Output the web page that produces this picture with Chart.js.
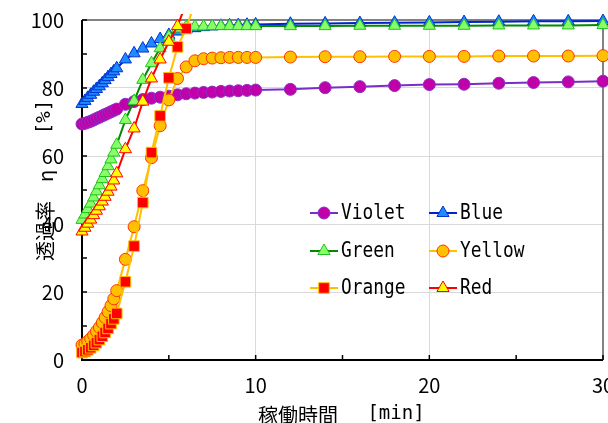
<!DOCTYPE html>
<html>
<head>
<meta charset="utf-8">
<script src="https://cdn.jsdelivr.net/npm/chart.js@4.4.0/dist/chart.umd.min.js"></script>
<style>
  html, body { margin: 0; padding: 0; background: #fff; overflow: hidden; }
  #wrap { width: 614px; height: 440px; }
</style>
</head>
<body>
<div id="wrap"><canvas id="chart" width="614" height="440"></canvas></div>
<script>
// time axis [min]
const times = [0, 0.17, 0.33, 0.5, 0.67, 0.83, 1, 1.17, 1.33, 1.5, 1.67, 1.83, 2,
  2.5, 3, 3.5, 4, 4.5, 5, 5.5, 6, 6.5, 7, 7.5, 8, 8.5, 9, 9.5, 10,
  12, 14, 16, 18, 20, 22, 24, 26, 28, 30];

// transmittance [%]
const violet = [69.4, 69.6, 69.9, 70.2, 70.6, 71.0, 71.4, 71.8, 72.2, 72.6, 73.0, 73.4, 73.8,
  75.2, 76.0, 76.6, 77.0, 77.3, 77.6, 78.0, 78.3, 78.5, 78.7, 78.8, 79.0, 79.1, 79.2, 79.3, 79.4,
  79.6, 80.1, 80.4, 80.7, 81.0, 81.1, 81.4, 81.6, 81.8, 82.0];
const blue = [75.3, 76.2, 77.1, 78.0, 78.9, 79.7, 80.5, 81.4, 82.3, 83.2, 84.1, 84.9, 85.8,
  88.4, 90.2, 91.6, 93.1, 94.4, 95.6, 96.6, 97.2, 97.6, 97.9, 98.1, 98.3, 98.4, 98.5, 98.6, 98.7,
  98.9, 99.0, 99.1, 99.2, 99.3, 99.4, 99.5, 99.6, 99.6, 99.7];
const green = [41.2, 42.8, 44.4, 46.0, 47.8, 49.6, 51.4, 53.2, 55.0, 57.0, 59.0, 61.0, 63.3,
  70.6, 76.2, 82.4, 87.3, 91.7, 95.1, 97.5, 98.0, 98.1, 98.1, 98.2, 98.2, 98.2, 98.2, 98.2, 98.2,
  98.2, 98.2, 98.3, 98.3, 98.3, 98.3, 98.4, 98.4, 98.4, 98.5];
const yellow = [4.4, 4.8, 5.5, 6.3, 7.3, 8.4, 9.6, 11.0, 12.5, 14.2, 16.0, 18.0, 20.4,
  29.6, 39.2, 49.8, 59.5, 68.9, 76.5, 82.8, 86.2, 88.0, 88.6, 88.8, 88.9, 89.0, 89.0, 89.0, 89.0,
  89.1, 89.2, 89.2, 89.3, 89.3, 89.3, 89.4, 89.4, 89.4, 89.5];
const orange = [2.2, 2.5, 3.0, 3.6, 4.3, 5.1, 6.0, 7.0, 8.1, 9.3, 10.7, 12.1, 13.7,
  23.0, 33.5, 46.3, 61.0, 71.8, 83.0, 92.1, 97.5, 105, 105, 105, 105, 105, 105, 105, 105,
  105, 105, 105, 105, 105, 105, 105, 105, 105, 105];
const red = [37.8, 38.9, 40.1, 41.3, 42.6, 43.9, 45.2, 46.6, 48.0, 49.5, 51.0, 52.8, 54.9,
  62.0, 68.1, 76.0, 82.8, 88.4, 93.6, 98.2, 105, 105, 105, 105, 105, 105, 105, 105, 105,
  105, 105, 105, 105, 105, 105, 105, 105, 105, 105];

const xTicks = [0, 10, 20, 30];
const yTicks = [0, 20, 40, 60, 80, 100];

const series = [
  { label: 'Violet', values: violet, line: '#7a2ec8', fill: '#c000a8', edge: '#8a30c8', style: 'circle', r: 6 },
  { label: 'Blue', values: blue, line: '#0022cc', fill: '#1c8cff', edge: '#0030d0', style: 'triangle', r: 7 },
  { label: 'Green', values: green, line: '#008a00', fill: '#88ff66', edge: '#22c022', style: 'triangle', r: 7 },
  { label: 'Yellow', values: yellow, line: '#ffc000', fill: '#ffc000', edge: '#ff3300', style: 'circle', r: 6 },
  { label: 'Orange', values: orange, line: '#ffc000', fill: '#ff0000', edge: '#ffc000', style: 'rect', r: 7.5 },
  { label: 'Red', values: red, line: '#ff0000', fill: '#ffff00', edge: '#ff0000', style: 'triangle', r: 7 }
];

const cjk = '"Noto Sans CJK JP", sans-serif';
const mono = '"DejaVu Sans Mono", monospace';

// plot frame + inward tick marks (drawn under the data, like the original)
const frame = {
  id: 'frame',
  beforeDatasetsDraw(chart) {
    const { ctx, chartArea: a, scales: { x, y } } = chart;
    const seg = (x1, y1, x2, y2) => { ctx.beginPath(); ctx.moveTo(x1, y1); ctx.lineTo(x2, y2); ctx.stroke(); };
    ctx.save();
    ctx.strokeStyle = '#595959';
    ctx.lineWidth = 1.5;
    seg(a.left, a.top, a.right, a.top);
    seg(a.right, a.top, a.right, a.bottom);
    ctx.strokeStyle = '#000';
    ctx.lineWidth = 1.5;
    for (let i = 0; i < xTicks.length; i++) {
      const vals = [xTicks[i]];
      if (i < xTicks.length - 1) vals.push((xTicks[i] + xTicks[i + 1]) / 2);
      vals.forEach(v => { const px = x.getPixelForValue(v); seg(px, a.bottom, px, a.bottom - 5); });
    }
    for (let i = 0; i < yTicks.length; i++) {
      const vals = [yTicks[i]];
      if (i < yTicks.length - 1) vals.push((yTicks[i] + yTicks[i + 1]) / 2);
      vals.forEach(v => { const py = y.getPixelForValue(v); seg(a.left, py, a.left + 5, py); });
    }
    ctx.lineWidth = 2;
    seg(a.left, a.top, a.left, a.bottom + 1);
    seg(a.left - 1, a.bottom, a.right, a.bottom);
    ctx.restore();
  }
};

// axis titles, drawn piece by piece to get the wide Excel spacing
const axisTitles = {
  id: 'axisTitles',
  afterDraw(chart) {
    const ctx = chart.ctx;
    ctx.save();
    ctx.fillStyle = '#000';
    ctx.textBaseline = 'middle';
    ctx.textAlign = 'center';
    // x title
    ctx.font = '20px ' + cjk;
    ctx.fillText('稼働時間', 298, 415);
    ctx.font = '19px ' + mono;
    ctx.fillText('[min]', 396, 414);
    // y title, rotated
    ctx.translate(45, 0);
    ctx.rotate(-Math.PI / 2);
    ctx.font = '20px ' + cjk;
    ctx.fillText('透過率', -231, 0);
    ctx.fillText('η', -176, 0);
    ctx.font = '19px ' + mono;
    ctx.fillText('[%]', -117, 0);
    ctx.restore();
  }
};

function marker(ctx, s, cx, cy) {
  ctx.beginPath();
  if (s.style === 'circle') {
    ctx.arc(cx, cy, s.r, 0, Math.PI * 2);
  } else if (s.style === 'rect') {
    const h = s.r * Math.SQRT1_2;
    ctx.rect(cx - h, cy - h, 2 * h, 2 * h);
  } else {
    for (let k = 0; k < 3; k++) {
      const ang = k * 2 * Math.PI / 3;
      const px = cx + Math.sin(ang) * s.r, py = cy - Math.cos(ang) * s.r;
      k ? ctx.lineTo(px, py) : ctx.moveTo(px, py);
    }
    ctx.closePath();
  }
  ctx.fillStyle = s.fill;
  ctx.fill();
  ctx.lineWidth = 1;
  ctx.strokeStyle = s.edge;
  ctx.stroke();
}

// legend inside the plot, 2 columns x 3 rows
const insideLegend = {
  id: 'insideLegend',
  afterDraw(chart) {
    const ctx = chart.ctx;
    const colX = [310, 429];
    const rowY = [213, 251, 288];
    ctx.save();
    series.forEach((s, i) => {
      const x0 = colX[i % 2], y0 = rowY[Math.floor(i / 2)];
      ctx.strokeStyle = s.line;
      ctx.lineWidth = 2;
      ctx.beginPath(); ctx.moveTo(x0, y0); ctx.lineTo(x0 + 28, y0); ctx.stroke();
      marker(ctx, s, x0 + 14, y0);
      ctx.save();
      ctx.translate(x0 + 31, y0);
      ctx.scale(0.85, 1);
      ctx.fillStyle = '#000';
      ctx.font = '21px ' + mono;
      ctx.textBaseline = 'middle';
      ctx.fillText(s.label, 0, 1);
      ctx.restore();
    });
    ctx.restore();
  }
};

const datasets = series.map((s, i) => ({
  label: s.label,
  data: times.map((t, k) => ({ x: t, y: s.values[k] })),
  borderColor: s.line,
  borderWidth: 2,
  pointStyle: s.style,
  pointRadius: s.r,
  pointBackgroundColor: s.fill,
  pointBorderColor: s.edge,
  pointBorderWidth: 1,
  showLine: true,
  tension: 0,
  order: series.length - i,
  clip: { left: 12, right: 12, top: 6, bottom: 12 }
}));

const tickFont = { family: cjk, size: 20 };

new Chart(document.getElementById('chart'), {
  type: 'scatter',
  data: { datasets },
  plugins: [frame, insideLegend, axisTitles],
  options: {
    responsive: false,
    animation: false,
    devicePixelRatio: 1,
    layout: { padding: { top: 20, right: 11, bottom: 0, left: 0 } },
    plugins: { legend: { display: false }, tooltip: { enabled: false } },
    scales: {
      x: {
        type: 'linear', min: 0, max: 30,
        afterBuildTicks: sc => { sc.ticks = xTicks.map(v => ({ value: v })); },
        afterFit: sc => { sc.height = 80; sc.paddingLeft = 0; sc.paddingRight = 0; },
        grid: { color: c => (c.tick.value === 0 || c.tick.value === 30) ? 'rgba(0,0,0,0)' : '#d9d9d9', drawTicks: false, lineWidth: 1 },
        border: { display: false },
        ticks: { color: '#000', font: tickFont, padding: 13, maxRotation: 0 }
      },
      y: {
        type: 'linear', min: 0, max: 100,
        afterBuildTicks: sc => { sc.ticks = yTicks.map(v => ({ value: v })); },
        afterFit: sc => { sc.width = 82; sc.paddingTop = 0; sc.paddingBottom = 0; },
        grid: { color: c => (c.tick.value === 0 || c.tick.value === 100) ? 'rgba(0,0,0,0)' : '#d9d9d9', drawTicks: false, lineWidth: 1 },
        border: { display: false },
        ticks: { color: '#000', font: tickFont, padding: 18 }
      }
    }
  }
});
</script>
</body>
</html>
